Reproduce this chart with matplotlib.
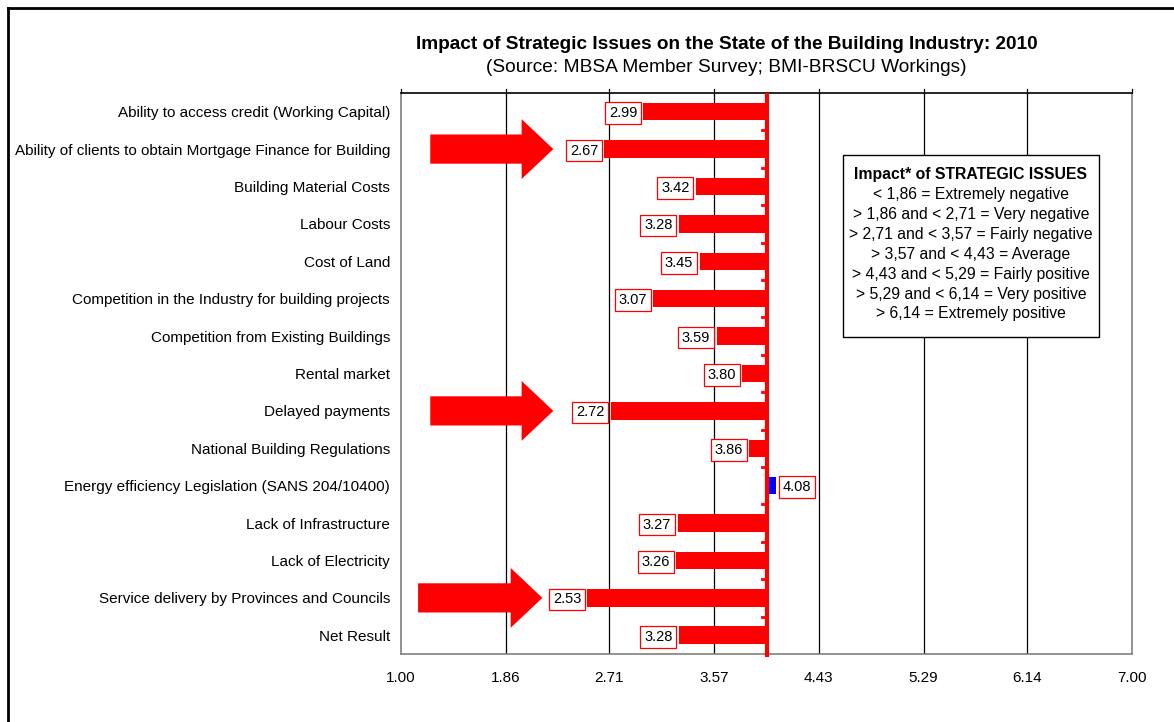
import matplotlib
matplotlib.use("Agg")
import matplotlib.pyplot as plt
from matplotlib.patches import FancyArrow
from matplotlib.lines import Line2D

plt.rcParams['font.family'] = ['Liberation Sans', 'DejaVu Sans']

categories = [
    "Ability to access credit (Working Capital)",
    "Ability of clients to obtain Mortgage Finance for Building",
    "Building Material Costs",
    "Labour Costs",
    "Cost of Land",
    "Competition in the Industry for building projects",
    "Competition from Existing Buildings",
    "Rental market",
    "Delayed payments",
    "National Building Regulations",
    "Energy efficiency Legislation (SANS 204/10400)",
    "Lack of Infrastructure",
    "Lack of Electricity",
    "Service delivery by Provinces and Councils",
    "Net Result",
]
scores = [2.99, 2.67, 3.42, 3.28, 3.45, 3.07, 3.59, 3.80, 2.72, 3.86,
          4.08, 3.27, 3.26, 2.53, 3.28]
baseline = 4.0
# highlighted issues: (category, arrow tail, arrow tip) on the score scale
highlighted = [
    ("Ability of clients to obtain Mortgage Finance for Building", 1.24, 2.25),
    ("Delayed payments", 1.24, 2.25),
    ("Service delivery by Provinces and Councils", 1.14, 2.16),
]
tick_values = [1.00, 1.86, 2.71, 3.57, 4.43, 5.29, 6.14, 7.00]
tick_labels = ["1.00", "1.86", "2.71", "3.57", "4.43", "5.29", "6.14", "7.00"]

legend_title = "Impact* of STRATEGIC ISSUES"
legend_lines = [
    "< 1,86 = Extremely negative",
    "> 1,86 and < 2,71 = Very negative",
    "> 2,71 and < 3,57 = Fairly negative",
    "> 3,57 and < 4,43 = Average",
    "> 4,43 and < 5,29 = Fairly positive",
    "> 5,29 and < 6,14 = Very positive",
    "> 6,14 = Extremely positive",
]

fig = plt.figure(figsize=(11.74, 7.22), dpi=100)
fig.patch.set_facecolor("white")
ax = fig.add_axes([0.3416, 0.0942, 0.6226, 0.777])

ypos = list(range(len(categories)))
widths = [s - baseline for s in scores]
colors = ["#0000FF" if s > baseline else "#FF0000" for s in scores]
ax.barh(ypos, widths, left=baseline, height=0.47, color=colors, zorder=3)

# value labels in red-edged boxes at the bar ends
for y, s in zip(ypos, scores):
    left_side = s < baseline
    ax.annotate(f"{s:.2f}", (s, y), xytext=(-4.5 if left_side else 4.5, 0),
                textcoords="offset points",
                ha="right" if left_side else "left", va="center_baseline",
                fontsize=10.5, zorder=5,
                bbox=dict(boxstyle="square,pad=0.26", fc="white", ec="#FF0000", lw=0.9))

# vertical axis at the baseline with small category ticks
ax.plot([baseline, baseline], [-0.5, 14.58], color="#FF0000", lw=3, zorder=4,
        clip_on=False, solid_capstyle="butt")
for b in [i + 0.5 for i in range(len(categories) - 1)]:
    ax.plot([baseline - 0.04, baseline], [b, b], color="#FF0000", lw=2, zorder=4)

# big arrows pointing at the highlighted issues
for name, x0, tip in highlighted:
    y = categories.index(name)
    ax.add_patch(FancyArrow(x0, y, tip - x0, 0, width=0.78, head_width=1.6,
                            head_length=0.26, length_includes_head=True,
                            color="#FF0000", lw=0, zorder=3))

ax.set_xlim(1, 7)
ax.set_ylim(14.5, -0.5)
ax.set_xticks(tick_values)
ax.set_xticklabels(tick_labels, fontsize=11)
ax.set_yticks(ypos)
ax.set_yticklabels(categories, fontsize=11)
ax.tick_params(axis="y", length=0, pad=8)
ax.tick_params(axis="x", length=0, pad=12.5)
for v in tick_values[1:-1]:
    ax.axvline(v, color="black", lw=0.9, zorder=1)
for v in tick_values:
    ax.plot([v, v], [-0.5, -0.62], color="black", lw=0.9, clip_on=False)
for side in ["left", "bottom", "right"]:
    ax.spines[side].set_color("#808080")
    ax.spines[side].set_linewidth(1.2)
ax.spines["top"].set_color("black")
ax.spines["top"].set_linewidth(1.2)

fig.text(0.619, 0.938, "Impact of Strategic Issues on the State of the Building Industry: 2010",
         ha="center", va="center", fontsize=13.7, fontweight="bold")
fig.text(0.619, 0.906, "(Source: MBSA Member Survey; BMI-BRSCU Workings)",
         ha="center", va="center", fontsize=13.8)

# scale legend box
lx0, lx1 = 843 / 1174, 1099 / 1174
ly0, ly1 = 1 - 337 / 722, 1 - 155 / 722
fig.patches.append(plt.Rectangle((lx0, ly0), lx1 - lx0, ly1 - ly0, transform=fig.transFigure,
                                 fc="white", ec="black", lw=1.0, zorder=5))
cx = (lx0 + lx1) / 2
fig.text(cx, 1 - 175 / 722, legend_title, ha="center", va="center", fontsize=11.3,
         fontweight="bold", zorder=6)
for i, line in enumerate(legend_lines):
    fig.text(cx, 1 - (195 + 19.8 * i) / 722, line, ha="center", va="center",
             fontsize=11.3, zorder=6)

# outer frame
fig.add_artist(Line2D([8 / 1174, 8 / 1174], [0, 1 - 8 / 722], color="black", lw=2,
                      transform=fig.transFigure))
fig.add_artist(Line2D([8 / 1174, 1], [1 - 8 / 722, 1 - 8 / 722], color="black", lw=2,
                      transform=fig.transFigure))

fig.savefig("out.png", dpi=100, facecolor="white")
